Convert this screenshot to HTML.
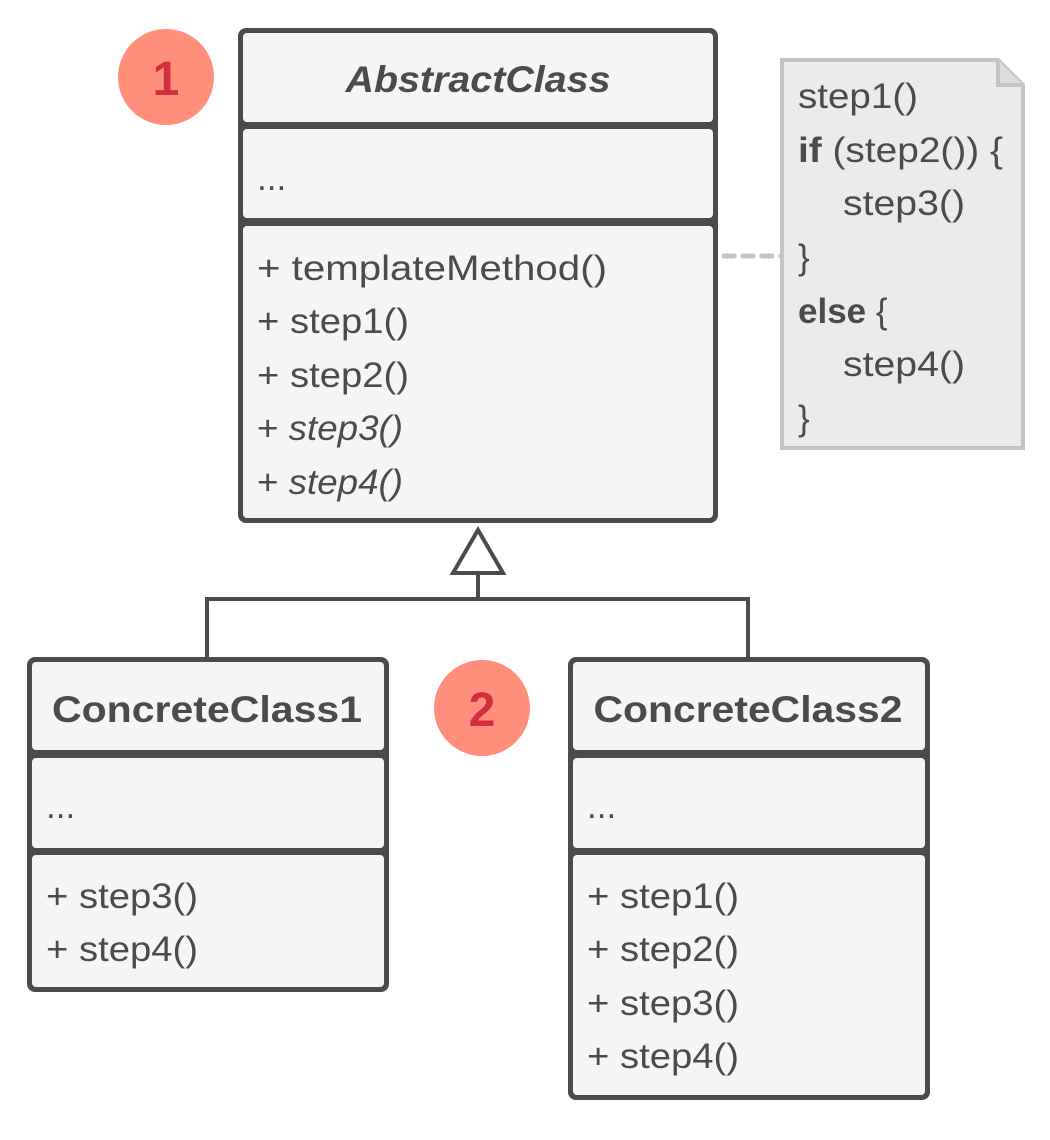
<!DOCTYPE html>
<html><head><meta charset="utf-8"><style>
html,body{margin:0;padding:0;background:#fff;}
svg{display:block;}
text{font-family:"Liberation Sans",sans-serif;fill:#4b4b4b;}
</style></head><body>
<svg width="1050" height="1140" viewBox="0 0 1050 1140" xmlns="http://www.w3.org/2000/svg">
<line x1="724" y1="256" x2="782" y2="256" stroke="#c4c4c4" stroke-width="5" stroke-dasharray="10,9" stroke-linecap="round"/>
<path d="M782,60 L998,60 L1023,85 L1023,448 L782,448 Z" fill="#ebebeb" stroke="#c4c4c4" stroke-width="4"/>
<path d="M998,60 L998,85 L1023,85" fill="#dcdcdc" stroke="#c4c4c4" stroke-width="4"/>
<g font-size="35">
<text x="798" y="108" textLength="120" lengthAdjust="spacingAndGlyphs">step1()</text>
<text x="798" y="162" textLength="205" lengthAdjust="spacingAndGlyphs"><tspan font-weight="bold">if</tspan> (step2()) {</text>
<text x="843" y="215" textLength="122" lengthAdjust="spacingAndGlyphs">step3()</text>
<text x="798" y="269">}</text>
<text x="798" y="323"><tspan font-weight="bold">else</tspan> {</text>
<text x="843" y="376" textLength="122" lengthAdjust="spacingAndGlyphs">step4()</text>
<text x="798" y="430">}</text>
</g>

<rect x="238" y="28" width="480" height="495" rx="8" fill="#4b4b4b"/>
<rect x="243" y="33" width="470" height="89" rx="4" fill="#f5f5f5"/>
<rect x="243" y="129" width="470" height="89" rx="4" fill="#f5f5f5"/>
<rect x="243" y="226" width="470" height="292" rx="4" fill="#f5f5f5"/>
<text x="478" y="92" font-size="37" font-weight="bold" font-style="italic" text-anchor="middle" textLength="265" lengthAdjust="spacingAndGlyphs">AbstractClass</text>
<g font-size="35">
<text x="257" y="190">...</text>
<text x="257" y="280" textLength="350" lengthAdjust="spacingAndGlyphs">+ templateMethod()</text>
<text x="257" y="333" textLength="152" lengthAdjust="spacingAndGlyphs">+ step1()</text>
<text x="257" y="387" textLength="152" lengthAdjust="spacingAndGlyphs">+ step2()</text>
<text x="257" y="440" textLength="146" lengthAdjust="spacingAndGlyphs">+ <tspan font-style="italic">step3()</tspan></text>
<text x="257" y="494" textLength="146" lengthAdjust="spacingAndGlyphs">+ <tspan font-style="italic">step4()</tspan></text>
</g>

<path d="M478,573 L478,599 M207,657 L207,599 L748,599 L748,657" fill="none" stroke="#4b4b4b" stroke-width="4"/>
<path d="M478,530 L503,573 L453,573 Z" fill="#fff" stroke="#4b4b4b" stroke-width="4"/>

<rect x="27" y="657" width="362" height="335" rx="8" fill="#4b4b4b"/>
<rect x="32" y="662" width="352" height="88" rx="4" fill="#f5f5f5"/>
<rect x="32" y="758" width="352" height="90" rx="4" fill="#f5f5f5"/>
<rect x="32" y="855" width="352" height="132" rx="4" fill="#f5f5f5"/>
<text x="207" y="722" font-size="37" font-weight="bold" text-anchor="middle" textLength="310" lengthAdjust="spacingAndGlyphs">ConcreteClass1</text>
<g font-size="35">
<text x="46" y="818">...</text>
<text x="46" y="908" textLength="152" lengthAdjust="spacingAndGlyphs">+ step3()</text>
<text x="46" y="961" textLength="152" lengthAdjust="spacingAndGlyphs">+ step4()</text>
</g>

<rect x="568" y="657" width="362" height="443" rx="8" fill="#4b4b4b"/>
<rect x="573" y="662" width="352" height="88" rx="4" fill="#f5f5f5"/>
<rect x="573" y="758" width="352" height="90" rx="4" fill="#f5f5f5"/>
<rect x="573" y="855" width="352" height="240" rx="4" fill="#f5f5f5"/>
<text x="748" y="722" font-size="37" font-weight="bold" text-anchor="middle" textLength="309" lengthAdjust="spacingAndGlyphs">ConcreteClass2</text>
<g font-size="35">
<text x="587" y="818">...</text>
<text x="587" y="908" textLength="152" lengthAdjust="spacingAndGlyphs">+ step1()</text>
<text x="587" y="961" textLength="152" lengthAdjust="spacingAndGlyphs">+ step2()</text>
<text x="587" y="1015" textLength="152" lengthAdjust="spacingAndGlyphs">+ step3()</text>
<text x="587" y="1068" textLength="152" lengthAdjust="spacingAndGlyphs">+ step4()</text>
</g>

<circle cx="166" cy="77" r="48" fill="#ff8e7a"/>
<text x="166" y="95" font-size="48" font-weight="bold" text-anchor="middle" style="fill:#d12f3b">1</text>
<circle cx="482" cy="708" r="48" fill="#ff8e7a"/>
<text x="482" y="726" font-size="48" font-weight="bold" text-anchor="middle" style="fill:#d12f3b">2</text>
</svg>
</body></html>
